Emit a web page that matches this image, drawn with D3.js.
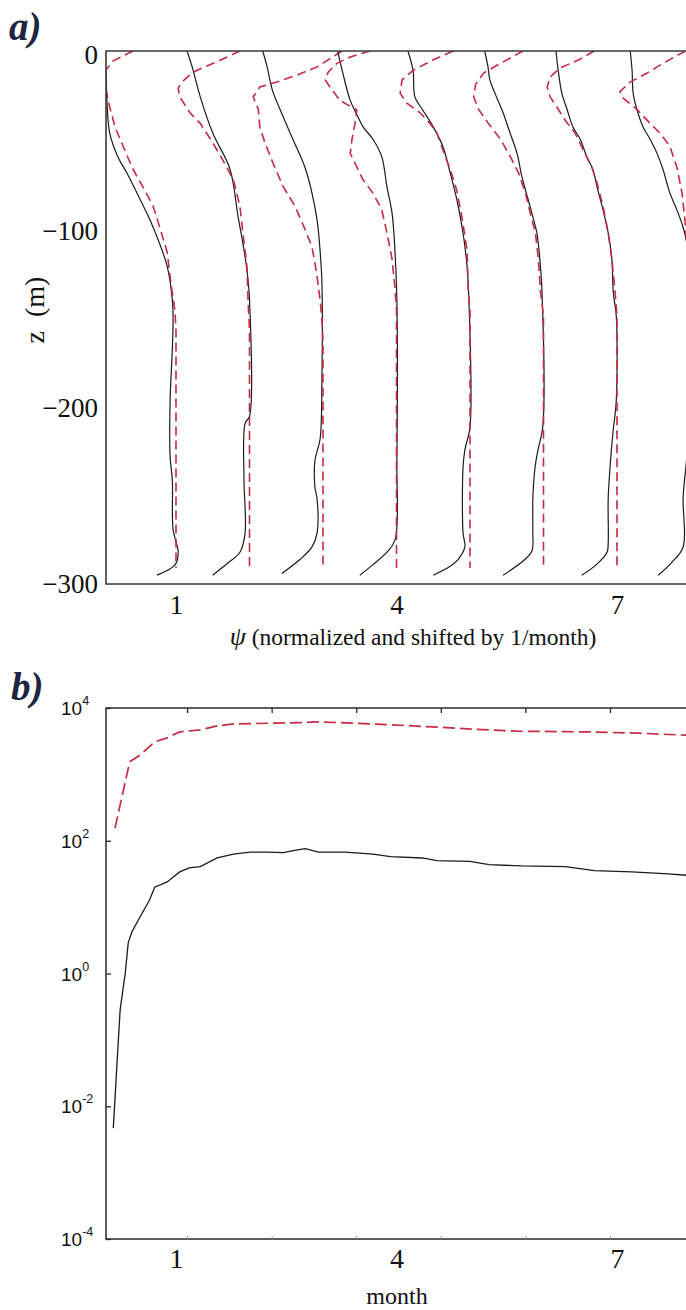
<!DOCTYPE html>
<html>
<head>
<meta charset="utf-8">
<script src="https://cdn.jsdelivr.net/npm/d3@7"></script>
<style>
  body { margin: 0; background: #fff; }
  svg { display: block; }
</style>
</head>
<body>
<svg id="chart" width="686" height="1310"></svg>
<script>
// ---------- panel a: normalized psi profiles, [depth z (m), psi] ----------
const solidM1 = [[0,0.03],[-14,0.05],[-28,0.06],[-47,0.10],[-60,0.21],[-69,0.33],[-84,0.51],[-100,0.69],[-122,0.88],[-141,0.95],[-152,0.96],[-169,0.95],[-198,0.92],[-230,0.92],[-243,0.95],[-271,0.96],[-284,1.03],[-291,0.99],[-297,0.74]];
const dashedM1 = [[0,0.415],[-5.7,0.14],[-15,-0.03],[-24,0.06],[-28,0.075],[-43,0.17],[-54,0.28],[-67,0.415],[-77,0.55],[-88,0.69],[-100,0.78],[-114,0.88],[-128,0.92],[-137,0.95],[-147,0.985],[-158,1.0],[-293,1.0]];

const solidM2 = [[0,0.15],[-9,0.22],[-26,0.33],[-46.5,0.50],[-67,0.735],[-94,0.845],[-109,0.91],[-124,0.965],[-141,1.0],[-207,1.0],[-211,0.94],[-243,0.925],[-273,0.94],[-284,0.87],[-290,0.71],[-297,0.50]];
const dashedM2 = [[0,0.87],[-6,0.56],[-12,0.23],[-17.6,0.08],[-21,0.03],[-26,0.05],[-35,0.19],[-41,0.33],[-52,0.50],[-62,0.64],[-73,0.78],[-88,0.87],[-103,0.91],[-122,0.965],[-141,0.98],[-158,1.0],[-293,1.0]];

const solidM3 = [[0,0.18],[-9,0.24],[-22,0.31],[-33,0.415],[-50,0.59],[-66,0.755],[-80.5,0.85],[-96,0.92],[-113,0.96],[-131,0.985],[-186,0.985],[-220,0.96],[-232,0.89],[-247,0.89],[-254,0.92],[-273,0.92],[-281,0.85],[-288,0.69],[-296,0.44]];
const dashedM3 = [[0,1.26],[-5,1.07],[-9,0.92],[-13.6,0.65],[-17.6,0.37],[-20.4,0.14],[-26,0.05],[-33,0.12],[-43,0.14],[-52,0.21],[-63.5,0.32],[-77,0.46],[-88,0.62],[-101,0.755],[-111,0.85],[-120,0.89],[-131,0.93],[-141,0.96],[-152,0.985],[-164,1.0],[-293,1.0]];

const solidM4 = [[0,0.20],[-12.5,0.27],[-28,0.37],[-36,0.46],[-43,0.545],[-50,0.68],[-60,0.80],[-77,0.87],[-92,0.94],[-114,0.98],[-141,1.005],[-232,1.005],[-277,0.98],[-284,0.87],[-291,0.68],[-297,0.50]];
const dashedM4 = [[0,0.64],[-3.4,0.37],[-7,0.19],[-12,0.07],[-16.4,0.03],[-20.4,0.095],[-28,0.23],[-33.4,0.46],[-41,0.435],[-50,0.395],[-58,0.37],[-63.5,0.435],[-73,0.545],[-80.5,0.68],[-90,0.80],[-103,0.87],[-118,0.94],[-135,0.98],[-147,1.0],[-293,1.0]];

const solidM5 = [[0,0.155],[-11,0.225],[-26,0.25],[-33,0.35],[-43,0.50],[-54,0.63],[-69,0.73],[-84,0.82],[-103,0.905],[-122,0.96],[-141,0.985],[-213,1.0],[-226,0.93],[-236,0.905],[-273,0.905],[-281,0.93],[-288,0.84],[-292,0.73],[-297,0.50]];
const dashedM5 = [[0,0.77],[-5,0.50],[-11,0.225],[-16.4,0.075],[-24,0.05],[-29.5,0.14],[-35,0.32],[-41,0.455],[-46.5,0.55],[-56,0.63],[-67,0.73],[-79,0.82],[-94,0.89],[-113,0.96],[-135,0.975],[-147,1.0],[-293,1.0]];

const solidM6 = [[0,0.20],[-9,0.245],[-16.4,0.27],[-24,0.34],[-35,0.45],[-46.5,0.545],[-58,0.64],[-71,0.705],[-84,0.79],[-94,0.855],[-103,0.91],[-118,0.95],[-137,0.98],[-213,0.99],[-226,0.925],[-236,0.885],[-254,0.855],[-273,0.855],[-283,0.845],[-288,0.75],[-297,0.45]];
const dashedM6 = [[0,0.72],[-7,0.415],[-12.5,0.185],[-19,0.075],[-26,0.05],[-33,0.115],[-41,0.25],[-50,0.415],[-60,0.55],[-69,0.66],[-80.5,0.755],[-92,0.82],[-103,0.89],[-118,0.93],[-137,0.96],[-150,1.0],[-293,1.0]];

const solidM7 = [[0,0.17],[-11,0.20],[-24,0.25],[-33,0.32],[-43,0.40],[-50,0.50],[-60,0.59],[-67,0.67],[-79,0.74],[-90,0.81],[-103,0.88],[-118,0.93],[-137,0.95],[-150,0.99],[-198,0.99],[-216,0.945],[-236,0.905],[-254,0.88],[-279,0.88],[-284,0.865],[-291,0.72],[-297,0.52]];
const dashedM7 = [[0,0.69],[-5,0.48],[-9.6,0.225],[-14.7,0.09],[-20.4,0.05],[-26,0.09],[-32,0.185],[-39,0.29],[-46.5,0.43],[-56,0.54],[-66,0.66],[-75,0.73],[-88,0.81],[-103,0.88],[-118,0.93],[-137,0.975],[-150,1.0],[-293,1.0]];

const solidM8 = [[0,0.18],[-11,0.205],[-24,0.22],[-33,0.27],[-43,0.355],[-50,0.45],[-58,0.545],[-67,0.625],[-80.5,0.72],[-90,0.815],[-100,0.90],[-109,0.95],[-130,0.98],[-200,1.0],[-230,0.95],[-253,0.90],[-281,0.90],[-290,0.74],[-297,0.56]];
const dashedM8 = [[0,0.93],[-7,0.625],[-12.5,0.41],[-17.6,0.18],[-23,0.04],[-26.6,0.08],[-33,0.27],[-41,0.45],[-46.5,0.585],[-54,0.72],[-66,0.815],[-80.5,0.885],[-96,0.925],[-120,0.97],[-150,1.0],[-293,1.0]];

const profileMonths = [1, 2, 3, 4, 5, 6, 7, 8];
const solidProfiles = [solidM1, solidM2, solidM3, solidM4, solidM5, solidM6, solidM7, solidM8];
const dashedProfiles = [dashedM1, dashedM2, dashedM3, dashedM4, dashedM5, dashedM6, dashedM7, dashedM8];

const depthTicks = [0, -100, -200, -300];
const psiTicks = [1, 4, 7];

// ---------- panel b: time series (month, value) ----------
const dashedMonths = [0.17, 0.37, 0.51, 0.71, 0.88, 1.05, 1.33, 1.56, 1.78, 2.69, 2.92, 3.23, 4.05, 4.59, 5.04, 5.68, 6.63, 7.31, 7.94, 8.2];
const dashedValues = [155, 1549, 1950, 3090, 3548, 4365, 4677, 5370, 5754, 6026, 6166, 6026, 5495, 5129, 4786, 4467, 4365, 4169, 3890, 3800];

const solidMonths = [0.147, 0.19, 0.24, 0.31, 0.35, 0.40, 0.51, 0.64, 0.71, 0.88, 1.05, 1.18, 1.33, 1.56, 1.78, 2.01, 2.24, 2.46, 2.63, 2.76, 2.94, 3.30, 3.68, 3.92, 4.35, 4.55, 5.0, 5.26, 5.7, 6.3, 6.69, 7.2, 7.7, 8.2];
const solidValues = [0.00468, 0.0316, 0.283, 1.02, 2.89, 4.24, 7.11, 12.8, 20.0, 24.0, 33.9, 38.9, 40.7, 55.0, 63.1, 67.6, 67.6, 66.1, 72.4, 75.9, 67.6, 67.6, 63.1, 57.5, 55.0, 50.1, 49.0, 43.7, 41.7, 40.7, 35.5, 33.9, 31.6, 28.8];

const monthTicks = [1, 4, 7];
const weekTicks = [5, 10, 15, 20, 25, 30, 35];
const logTicks = [1e4, 1e2, 1e0, 1e-2, 1e-4];

// ---------- layout ----------
const svg = d3.select("#chart");
const BLACK = "#1b1b1b";
const RED = "#c62a45";
const SERIF = "'Liberation Serif', 'Times New Roman', serif";
const SANS = "'Liberation Sans', Arial, sans-serif";

const frameLeft = 106, frameRight = 760;
const aTop = 51, aBottom = 584;
const bTop = 708, bBottom = 1239;

// shared month scale for both panels
const x = d3.scaleLinear().domain([0, 8.3]).range([102.5, 102.5 + 73.5 * 8.3]);
const WEEKS_PER_MONTH = 4.345;

// ================= panel a =================
const yA = d3.scaleLinear().domain([-302, 0]).range([aBottom, aTop]);

svg.append("clipPath").attr("id", "clipA")
  .append("rect").attr("x", frameLeft).attr("y", aTop)
  .attr("width", frameRight - frameLeft).attr("height", aBottom - aTop);

const gA = svg.append("g").attr("clip-path", "url(#clipA)");

profileMonths.forEach((m, i) => {
  const solidLine = d3.line()
    .curve(d3.curveCatmullRom.alpha(0.5))
    .x(d => x(d[1] + (m - 1)))
    .y(d => yA(d[0]));
  const dashedLine = d3.line()
    .x(d => x(d[1] + (m - 1)))
    .y(d => yA(d[0]));
  gA.append("path")
    .datum(solidProfiles[i])
    .attr("d", solidLine)
    .attr("fill", "none")
    .attr("stroke", BLACK)
    .attr("stroke-width", 1.2);
  gA.append("path")
    .datum(dashedProfiles[i])
    .attr("d", dashedLine)
    .attr("fill", "none")
    .attr("stroke", RED)
    .attr("stroke-width", 1.6)
    .attr("stroke-dasharray", "9,5");
});

// frame
svg.append("path")
  .attr("d", `M${frameRight},${aTop}H${frameLeft}V${aBottom}H${frameRight}`)
  .attr("fill", "none").attr("stroke", "#3a3a3a").attr("stroke-width", 1.6);

// depth axis labels
const axA = svg.append("g").attr("transform", `translate(${frameLeft},0)`)
  .call(d3.axisLeft(yA).tickValues(depthTicks).tickSize(0).tickPadding(8));
axA.select(".domain").remove();
axA.selectAll("text")
  .attr("font-family", SERIF).attr("font-size", 27).attr("fill", "#111")
  .attr("dy", "0.45em");

// psi axis labels
const axAx = svg.append("g").attr("transform", `translate(0,${aBottom})`)
  .call(d3.axisBottom(x).tickValues(psiTicks).tickSize(0).tickPadding(11).tickFormat(d3.format("d")));
axAx.select(".domain").remove();
axAx.selectAll("text")
  .attr("font-family", SERIF).attr("font-size", 27).attr("fill", "#111");

svg.append("text")
  .attr("x", 413).attr("y", 645)
  .attr("text-anchor", "middle")
  .attr("font-family", SERIF).attr("font-size", 23.5).attr("fill", "#111")
  .call(t => {
    t.append("tspan").attr("font-style", "italic").attr("font-size", 26).text("ψ");
    t.append("tspan").text(" (normalized and shifted by 1/month)");
  });

svg.append("text")
  .attr("transform", "translate(44,310) rotate(-90)")
  .attr("text-anchor", "middle")
  .attr("font-family", SERIF).attr("font-size", 28).attr("fill", "#111")
  .attr("xml:space", "preserve")
  .text("z  (m)");

svg.append("text")
  .attr("x", 9).attr("y", 40)
  .attr("font-family", SERIF).attr("font-size", 39)
  .attr("font-weight", "bold").attr("font-style", "italic")
  .attr("fill", "#1d2440")
  .text("a)");

// ================= panel b =================
const yB = d3.scaleLog().domain([1e-4, 1e4]).range([bBottom, bTop]);

svg.append("clipPath").attr("id", "clipB")
  .append("rect").attr("x", frameLeft).attr("y", bTop)
  .attr("width", frameRight - frameLeft).attr("height", bBottom - bTop);

const gB = svg.append("g").attr("clip-path", "url(#clipB)");

const lineB = d3.line().x(d => x(d[0])).y(d => yB(d[1]));

gB.append("path")
  .datum(d3.zip(dashedMonths, dashedValues))
  .attr("d", lineB)
  .attr("fill", "none").attr("stroke", RED)
  .attr("stroke-width", 1.7).attr("stroke-dasharray", "12,5");

gB.append("path")
  .datum(d3.zip(solidMonths, solidValues))
  .attr("d", lineB)
  .attr("fill", "none").attr("stroke", BLACK)
  .attr("stroke-width", 1.3);

// frame
svg.append("path")
  .attr("d", `M${frameRight},${bTop}H${frameLeft}V${bBottom}H${frameRight}`)
  .attr("fill", "none").attr("stroke", "#2a2a2a").attr("stroke-width", 1.5);

// top ticks (weeks), drawn inward
const xWeeks = d3.scaleLinear()
  .domain(x.domain().map(d => d * WEEKS_PER_MONTH))
  .range(x.range());
const topAx = svg.append("g").attr("transform", `translate(0,${bTop})`)
  .call(d3.axisTop(xWeeks).tickValues(weekTicks).tickSize(-5).tickFormat(""));
topAx.select(".domain").remove();
topAx.selectAll("line").attr("stroke", "#2a2a2a").attr("stroke-width", 1.3);

const botAx = svg.append("g").attr("transform", `translate(0,${bBottom})`)
  .call(d3.axisBottom(xWeeks).tickValues(weekTicks).tickSize(-3).tickFormat(""));
botAx.select(".domain").remove();
botAx.selectAll("line").attr("stroke", "#9a9a9a").attr("stroke-width", 1);

// log axis with 10^n labels
const leftB = svg.append("g").attr("transform", `translate(${frameLeft},0)`)
  .call(d3.axisLeft(yB).tickValues(logTicks).tickSize(-5).tickFormat(""));
leftB.select(".domain").remove();
leftB.selectAll("line").attr("stroke", "#2a2a2a").attr("stroke-width", 1.3);

logTicks.forEach(v => {
  const e = Math.round(Math.log10(v));
  const t = svg.append("text")
    .attr("x", 61).attr("y", yB(v) + 7)
    .attr("font-family", SANS).attr("font-size", 19).attr("fill", "#111");
  t.append("tspan").text("10");
  t.append("tspan").attr("dy", -10).attr("font-size", 12.5).text(e < 0 ? "-" + (-e) : String(e));
});

// month labels
const axBx = svg.append("g").attr("transform", `translate(0,${bBottom})`)
  .call(d3.axisBottom(x).tickValues(monthTicks).tickSize(0).tickPadding(9).tickFormat(d3.format("d")));
axBx.select(".domain").remove();
axBx.selectAll("text")
  .attr("font-family", SERIF).attr("font-size", 28).attr("fill", "#111");

svg.append("text")
  .attr("x", 397).attr("y", 1304)
  .attr("text-anchor", "middle")
  .attr("font-family", SERIF).attr("font-size", 24).attr("fill", "#111")
  .text("month");

svg.append("text")
  .attr("x", 11).attr("y", 700)
  .attr("font-family", SERIF).attr("font-size", 39)
  .attr("font-weight", "bold").attr("font-style", "italic")
  .attr("fill", "#1d2440")
  .text("b)");
</script>
</body>
</html>
